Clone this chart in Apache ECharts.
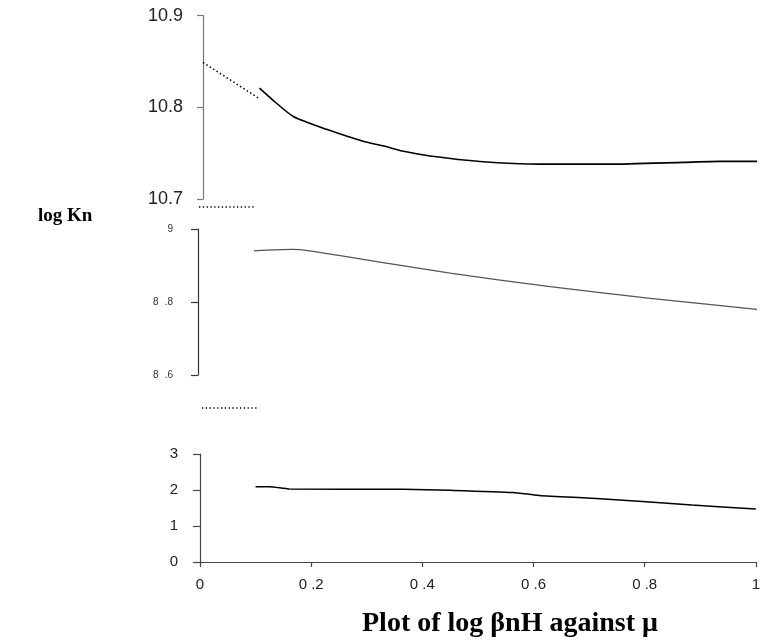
<!DOCTYPE html>
<html><head><meta charset="utf-8">
<script src="https://cdn.jsdelivr.net/npm/echarts@6/dist/echarts.min.js"></script>
<style>html,body{margin:0;padding:0;background:#fff}#c{width:763px;height:644px}</style>
</head><body><div id="c"></div>
<script>
// x tick labels (shared axis mu)
const xTickLabels = ["0", "0 .2", "0 .4", "0 .6", "0 .8", "1"];
// top panel tick labels
const topTickLabels = ["10.7", "10.8", "10.9"];
// middle panel tick labels
const midTickLabels = ["8 .6", "8 .8", "9"];
// bottom panel tick labels
const botTickLabels = ["0", "1", "2", "3"];

// top panel: dotted extrapolation and solid curve
const topDottedX = [0.0, 0.103];
const topDottedY = [10.849, 10.809];
const topX = [0.102, 0.126, 0.163, 0.223, 0.289, 0.325, 0.362, 0.41, 0.5, 0.608, 0.735, 0.867, 0.933, 1.0];
const topY = [10.821, 10.808, 10.790, 10.776, 10.763, 10.758, 10.752, 10.747, 10.741, 10.738, 10.738, 10.740, 10.741, 10.741];

// middle panel
const midX = [0.1, 0.168, 0.2, 0.331, 0.451, 0.63, 0.809, 1.0];
const midY = [8.94, 8.944, 8.94, 8.908, 8.879, 8.842, 8.81, 8.78];

// bottom panel
const botX = [0.1, 0.125, 0.16, 0.365, 0.45, 0.563, 0.61, 0.72, 0.885, 1.0];
const botY = [2.09, 2.09, 2.03, 2.02, 1.99, 1.93, 1.85, 1.76, 1.58, 1.47];

const zip = (a, b) => a.map((v, i) => [v, b[i]]);
const chart = echarts.init(document.getElementById('c'));
const sans = 'Liberation Sans, Arial, sans-serif';
const serif = 'Liberation Serif, Times New Roman, serif';

function yAxis(gi, min, max, interval, labels, opts) {
  return {
    type: 'value', gridIndex: gi, min: min, max: max, interval: interval,
    splitLine: {show: false},
    axisLine: {show: true, lineStyle: {color: opts.axisColor, width: 1.2}},
    axisTick: {show: true, length: opts.tick, lineStyle: {color: opts.axisColor, width: 1.2}},
    axisLabel: {
      margin: opts.margin, fontFamily: sans, fontSize: opts.fs, color: opts.labelColor,
      rich: opts.rich,
      formatter: function (v) {
        const idx = Math.round((v - min) / interval);
        const t = labels[idx] !== undefined ? labels[idx] : '';
        return opts.wrap ? opts.wrap(t) : t;
      }
    }
  };
}

const midRich = {
  d: {fontFamily: sans, fontSize: 10, color: '#333'},
  g: {width: 6, fontSize: 10}
};
function midWrap(t) {
  const parts = t.split(' ');
  if (parts.length < 2) return '{d|' + t + '}';
  return '{d|' + parts[0] + '}{g|}{d|' + parts[1] + '}';
}

const option = {
  animation: false,
  backgroundColor: '#fff',
  grid: [
    {left: 203, top: 15.7, width: 554, height: 183.3},
    {left: 198, top: 229, width: 559, height: 146},
    {left: 200, top: 454, width: 557, height: 108}
  ],
  xAxis: [
    {type: 'value', gridIndex: 0, min: 0, max: 1, show: false},
    {type: 'value', gridIndex: 1, min: 0, max: 1, show: false},
    {type: 'value', gridIndex: 2, min: 0, max: 1, interval: 0.2,
      splitLine: {show: false},
      axisLine: {show: true, onZero: false, lineStyle: {color: '#444', width: 1.2}},
      axisTick: {show: true, length: 5, lineStyle: {color: '#444', width: 1.2}},
      axisLabel: {margin: 15, fontFamily: sans, fontSize: 15, color: '#222',
        formatter: function (v) { const i = Math.round(v / 0.2); return xTickLabels[i] || ''; }}
    }
  ],
  yAxis: [
    yAxis(0, 10.7, 10.9, 0.1, topTickLabels, {axisColor: '#777', tick: 6, margin: 20, fs: 18, labelColor: '#222'}),
    yAxis(1, 8.6, 9, 0.2, midTickLabels, {axisColor: '#333', tick: 7, margin: 25, fs: 10, labelColor: '#333', rich: midRich, wrap: midWrap}),
    yAxis(2, 0, 3, 1, botTickLabels, {axisColor: '#444', tick: 7, margin: 22, fs: 15, labelColor: '#222'})
  ],
  series: [
    {type: 'line', xAxisIndex: 0, yAxisIndex: 0, data: zip(topDottedX, topDottedY), showSymbol: false,
      lineStyle: {color: '#000', width: 1.5, type: [1.5, 2.5]}},
    {type: 'line', xAxisIndex: 0, yAxisIndex: 0, data: zip(topX, topY), showSymbol: false, smooth: 0.2,
      lineStyle: {color: '#000', width: 1.6}},
    {type: 'line', xAxisIndex: 1, yAxisIndex: 1, data: zip(midX, midY), showSymbol: false, smooth: 0.2,
      lineStyle: {color: '#555', width: 1.2}},
    {type: 'line', xAxisIndex: 2, yAxisIndex: 2, data: zip(botX, botY), showSymbol: false, smooth: 0.2,
      lineStyle: {color: '#000', width: 1.5}}
  ],
  graphic: [
    {type: 'line', shape: {x1: 199, y1: 207, x2: 256, y2: 207}, style: {stroke: '#000', lineWidth: 1.3, lineDash: [1.3, 2.5]}},
    {type: 'line', shape: {x1: 202, y1: 408, x2: 259, y2: 408}, style: {stroke: '#000', lineWidth: 1.3, lineDash: [1.3, 2.5]}},
    {type: 'text', left: 38, top: 207, style: {text: 'log Kn', font: 'bold 19px ' + serif, fill: '#000'}},
    {type: 'text', left: 362, top: 610, style: {text: 'Plot of log βnH against μ', font: 'bold 28px ' + serif, fill: '#000'}}
  ]
};
chart.setOption(option);
</script>
</body></html>
